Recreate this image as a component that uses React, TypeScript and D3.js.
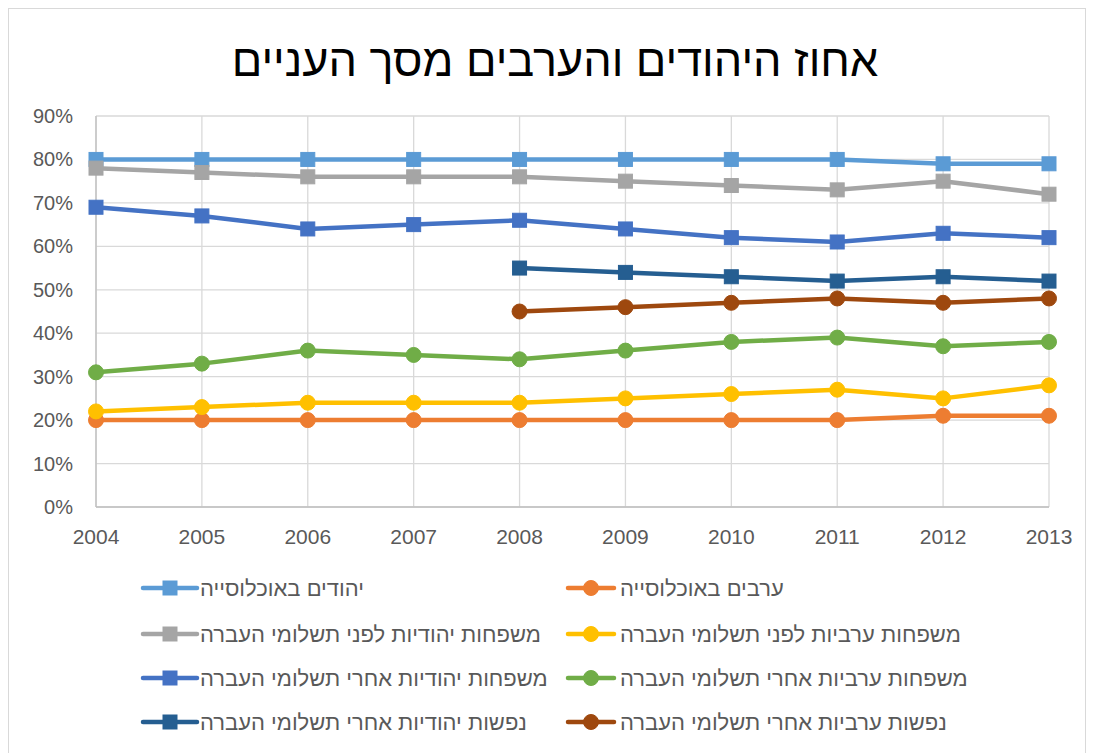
import React from "react";
import * as d3 from "d3";

const years = [2004, 2005, 2006, 2007, 2008, 2009, 2010, 2011, 2012, 2013];
const yTicks = [0, 10, 20, 30, 40, 50, 60, 70, 80, 90];

const jewsPop = [80, 80, 80, 80, 80, 80, 80, 80, 79, 79];
const arabsPop = [20, 20, 20, 20, 20, 20, 20, 20, 21, 21];
const jewFamBefore = [78, 77, 76, 76, 76, 75, 74, 73, 75, 72];
const arabFamBefore = [22, 23, 24, 24, 24, 25, 26, 27, 25, 28];
const jewFamAfter = [69, 67, 64, 65, 66, 64, 62, 61, 63, 62];
const arabFamAfter = [31, 33, 36, 35, 34, 36, 38, 39, 37, 38];
const jewPersAfter = [null, null, null, null, 55, 54, 53, 52, 53, 52];
const arabPersAfter = [null, null, null, null, 45, 46, 47, 48, 47, 48];

const series = [
  { name: "יהודים באוכלוסייה", values: jewsPop, color: "#5B9BD5", marker: "square" },
  { name: "ערבים באוכלוסייה", values: arabsPop, color: "#ED7D31", marker: "circle" },
  { name: "משפחות יהודיות לפני תשלומי העברה", values: jewFamBefore, color: "#A5A5A5", marker: "square" },
  { name: "משפחות ערביות לפני תשלומי העברה", values: arabFamBefore, color: "#FFC000", marker: "circle" },
  { name: "משפחות יהודיות אחרי תשלומי העברה", values: jewFamAfter, color: "#4472C4", marker: "square" },
  { name: "משפחות ערביות אחרי תשלומי העברה", values: arabFamAfter, color: "#70AD47", marker: "circle" },
  { name: "נפשות יהודיות אחרי תשלומי העברה", values: jewPersAfter, color: "#255E91", marker: "square" },
  { name: "נפשות ערביות אחרי תשלומי העברה", values: arabPersAfter, color: "#9E480E", marker: "circle" },
];

const title = "אחוז היהודים והערבים מסך העניים";
const FONT = "'Liberation Sans', Arial, sans-serif";

function Marker({ x, y, color, type }: { x: number; y: number; color: string; type: string }) {
  if (type === "square") {
    return <rect x={x - 7} y={y - 7} width={14} height={14} fill={color} stroke={color} strokeWidth={1} />;
  }
  return <circle cx={x} cy={y} r={7.5} fill={color} stroke={color} strokeWidth={1} />;
}

export default function App() {
  const W = 1094, H = 753;
  const x = d3.scaleLinear().domain([2004, 2013]).range([96, 1049]);
  const y = d3.scaleLinear().domain([0, 90]).range([507, 116]);
  const line = d3
    .line<number | null>()
    .defined((d) => d != null)
    .x((_, i) => x(years[i]))
    .y((d) => y(d as number));

  const legendCols = [
    { lineX0: 143, lineX1: 197, textX: 200 },
    { lineX0: 568, lineX1: 614, textX: 620 },
  ];
  const legendRows = [588, 634, 678, 722];

  return (
    <svg width={W} height={H} style={{ position: "absolute", left: 0, top: 0 }} fontFamily={FONT}>
      <rect x={0} y={0} width={W} height={H} fill="#fff" />
      <rect x={8.5} y={8.5} width={1077} height={760} fill="#fff" stroke="#D9D9D9" strokeWidth={1} />
      <text x={555} y={76} textAnchor="middle" fontSize={45} fill="#000">{title}</text>

      {yTicks.map((t) => (
        <line key={"h" + t} x1={96} x2={1049} y1={y(t)} y2={y(t)} stroke="#D9D9D9" strokeWidth={1.3} />
      ))}
      {years.map((yr) => (
        <line key={"v" + yr} x1={x(yr)} x2={x(yr)} y1={y(90)} y2={y(0)} stroke="#D9D9D9" strokeWidth={1.3} />
      ))}
      <line x1={96} x2={96} y1={y(90)} y2={y(0)} stroke="#BFBFBF" strokeWidth={1.3} />
      <line x1={96} x2={1049} y1={y(0)} y2={y(0)} stroke="#BFBFBF" strokeWidth={1.3} />

      {yTicks.map((t) => (
        <text key={"yl" + t} x={73} y={y(t)} dy="0.35em" textAnchor="end" fontSize={20} fill="#595959">
          {t + "%"}
        </text>
      ))}
      {years.map((yr) => (
        <text key={"xl" + yr} x={x(yr)} y={544} textAnchor="middle" fontSize={21} fill="#595959">
          {yr}
        </text>
      ))}

      {series.map((s) => (
        <g key={s.name}>
          <path d={line(s.values) || ""} fill="none" stroke={s.color} strokeWidth={4.5} strokeLinejoin="round" strokeLinecap="round" />
          {s.values.map((v, i) =>
            v == null ? null : <Marker key={i} x={x(years[i])} y={y(v)} color={s.color} type={s.marker} />
          )}
        </g>
      ))}

      {series.map((s, i) => {
        const col = legendCols[i % 2];
        const ry = legendRows[Math.floor(i / 2)];
        const mx = (col.lineX0 + col.lineX1) / 2;
        return (
          <g key={"lg" + i}>
            <line x1={col.lineX0} x2={col.lineX1} y1={ry} y2={ry} stroke={s.color} strokeWidth={4.5} strokeLinecap="round" />
            <Marker x={mx} y={ry} color={s.color} type={s.marker} />
            <text x={col.textX} y={ry} dy="0.35em" textAnchor="start" fontSize={22} fill="#595959">
              {s.name}
            </text>
          </g>
        );
      })}
    </svg>
  );
}
